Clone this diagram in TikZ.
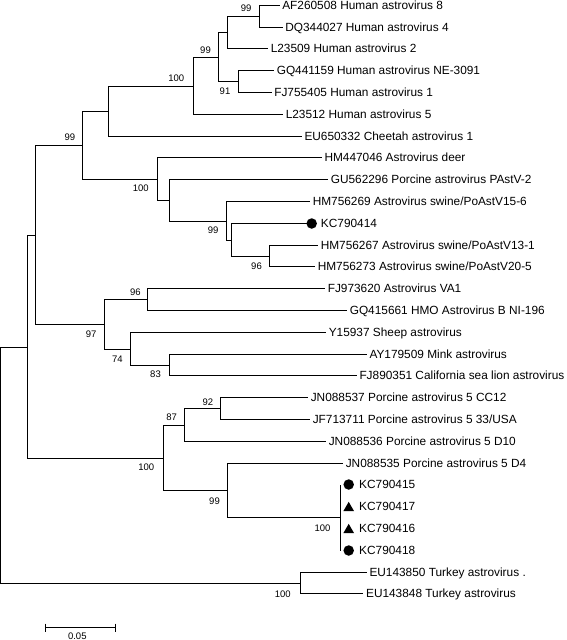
\documentclass[tikz,border=0pt]{standalone}
\usepackage{fontspec}
\setmainfont{Liberation Sans}
\usetikzlibrary{shapes.geometric}
\begin{document}
\begin{tikzpicture}[x=1bp,y=-1bp,
  br/.style={line width=1bp, black},
  leaf/.style={anchor=west, inner sep=0pt, xshift=2.6bp, font=\fontsize{11.85bp}{14bp}\selectfont, text height=8.4bp, text depth=0pt},
  boot/.style={inner sep=0pt, font=\fontsize{9.5bp}{11bp}\selectfont, text height=6.8bp, text depth=0pt},
  dot/.style={circle, fill=black, inner sep=0pt, minimum size=10.5bp},
  tri/.style={regular polygon, regular polygon sides=3, fill=black, inner sep=0pt, minimum size=12.5bp}]
\useasboundingbox (0,0) rectangle (567,640);
% leaf tips
\coordinate (l0) at (279.5,5.5);
\coordinate (l1) at (282.5,27.5);
\coordinate (l2) at (268,48.5);
\coordinate (l3) at (274,70.5);
\coordinate (l4) at (271.5,92.5);
\coordinate (l5) at (283,114.5);
\coordinate (l6) at (301.7,136.5);
\coordinate (l7) at (321.7,157.5);
\coordinate (l8) at (328,179.5);
\coordinate (l9) at (310,201.5);
\coordinate (l10) at (311.7,223.5);
\coordinate (l11) at (318,245.5);
\coordinate (l12) at (315,266.5);
\coordinate (l13) at (325,288.5);
\coordinate (l14) at (347,310.5);
\coordinate (l15) at (326,332.5);
\coordinate (l16) at (366.7,354.5);
\coordinate (l17) at (356.7,375.5);
\coordinate (l18) at (308,397.5);
\coordinate (l19) at (310,419.5);
\coordinate (l20) at (326,441.5);
\coordinate (l21) at (343,463.5);
\coordinate (l22) at (340.5,484.5);
\coordinate (l23) at (340.5,506.5);
\coordinate (l24) at (340.5,528.5);
\coordinate (l25) at (340.5,550.5);
\coordinate (l26) at (366.7,572.5);
\coordinate (l27) at (363.3,593.5);
% internal nodes
\coordinate (nA) at (259.5,16.5);
\coordinate (nB) at (227.5,32.5);
\coordinate (nC) at (238.5,81.5);
\coordinate (nD) at (218.5,57.5);
\coordinate (nE) at (193.5,86.5);
\coordinate (nF) at (108.5,111.5);
\coordinate (nG) at (269.5,256.5);
\coordinate (nH) at (231.5,240.5);
\coordinate (nI) at (226.5,221.5);
\coordinate (nJ) at (169.5,200.5);
\coordinate (nK) at (157.5,179.5);
\coordinate (nL) at (82.5,145.5);
\coordinate (nM) at (147.5,299.5);
\coordinate (nN) at (169.5,365.5);
\coordinate (nO) at (130.5,349.5);
\coordinate (nP) at (104.5,324.5);
\coordinate (nQ) at (35.5,235.5);
\coordinate (nR) at (220.5,408.5);
\coordinate (nS) at (184.5,425.5);
\coordinate (nT) at (340.5,517.5);
\coordinate (nU) at (227.5,490.5);
\coordinate (nV) at (163.5,458.5);
\coordinate (nW) at (27.5,347.5);
\coordinate (nX) at (300.5,583.5);
\coordinate (root) at (0.5,465.5);
% branches
\draw[br] (nA) |- (l0); \draw[br] (nA) |- (l1);
\draw[br] (nB) |- (nA); \draw[br] (nB) |- (l2);
\draw[br] (nC) |- (l3); \draw[br] (nC) |- (l4);
\draw[br] (nD) |- (nB); \draw[br] (nD) |- (nC);
\draw[br] (nE) |- (nD); \draw[br] (nE) |- (l5);
\draw[br] (nF) |- (nE); \draw[br] (nF) |- (l6);
\draw[br] (nG) |- (l11); \draw[br] (nG) |- (l12);
\draw[br] (nH) |- (l10); \draw[br] (nH) |- (nG);
\draw[br] (nI) |- (l9); \draw[br] (nI) |- (nH);
\draw[br] (nJ) |- (l8); \draw[br] (nJ) |- (nI);
\draw[br] (nK) |- (l7); \draw[br] (nK) |- (nJ);
\draw[br] (nL) |- (nF); \draw[br] (nL) |- (nK);
\draw[br] (nM) |- (l13); \draw[br] (nM) |- (l14);
\draw[br] (nN) |- (l16); \draw[br] (nN) |- (l17);
\draw[br] (nO) |- (l15); \draw[br] (nO) |- (nN);
\draw[br] (nP) |- (nM); \draw[br] (nP) |- (nO);
\draw[br] (nQ) |- (nL); \draw[br] (nQ) |- (nP);
\draw[br] (nR) |- (l18); \draw[br] (nR) |- (l19);
\draw[br] (nS) |- (nR); \draw[br] (nS) |- (l20);
\draw[br] (nT) |- (l22); \draw[br] (nT) |- (l23);
\draw[br] (nT) |- (l24); \draw[br] (nT) |- (l25);
\draw[br] (nU) |- (l21); \draw[br] (nU) |- (nT);
\draw[br] (nV) |- (nS); \draw[br] (nV) |- (nU);
\draw[br] (nW) |- (nQ); \draw[br] (nW) |- (nV);
\draw[br] (nX) |- (l26); \draw[br] (nX) |- (l27);
\draw[br] (root) |- (nW); \draw[br] (root) |- (nX);
% leaf labels
\node[leaf] (t0) at (l0) {AF260508 Human astrovirus 8};
\node[leaf] (t1) at (l1) {DQ344027 Human astrovirus 4};
\node[leaf] (t2) at (l2) {L23509 Human astrovirus 2};
\node[leaf] (t3) at (l3) {GQ441159 Human astrovirus NE-3091};
\node[leaf] (t4) at (l4) {FJ755405 Human astrovirus 1};
\node[leaf] (t5) at (l5) {L23512 Human astrovirus 5};
\node[leaf] (t6) at (l6) {EU650332 Cheetah astrovirus 1};
\node[leaf] (t7) at (l7) {HM447046 Astrovirus deer};
\node[leaf] (t8) at (l8) {GU562296 Porcine astrovirus PAstV-2};
\node[leaf] (t9) at (l9) {HM756269 Astrovirus swine/PoAstV15-6};
\node[dot] (s10) at (l10) {};
\node[leaf] (t10) at ([xshift=1bp]s10.east) {KC790414};
\node[leaf] (t11) at (l11) {HM756267 Astrovirus swine/PoAstV13-1};
\node[leaf] (t12) at (l12) {HM756273 Astrovirus swine/PoAstV20-5};
\node[leaf] (t13) at (l13) {FJ973620 Astrovirus VA1};
\node[leaf] (t14) at (l14) {GQ415661 HMO Astrovirus B NI-196};
\node[leaf] (t15) at (l15) {Y15937 Sheep astrovirus};
\node[leaf] (t16) at (l16) {AY179509 Mink astrovirus};
\node[leaf] (t17) at (l17) {FJ890351 California sea lion astrovirus};
\node[leaf] (t18) at (l18) {JN088537 Porcine astrovirus 5 CC12};
\node[leaf] (t19) at (l19) {JF713711 Porcine astrovirus 5 33/USA};
\node[leaf] (t20) at (l20) {JN088536 Porcine astrovirus 5 D10};
\node[leaf] (t21) at (l21) {JN088535 Porcine astrovirus 5 D4};
\node[dot] (s22) at (348.7,484.5) {};
\node[tri] (s23) at (348.7,508.1) {};
\node[tri] (s24) at (348.7,530.1) {};
\node[dot] (s25) at (348.7,550.5) {};
\node[leaf] (t22) at (356.4,484.5) {KC790415};
\node[leaf] (t23) at (356.4,506.5) {KC790417};
\node[leaf] (t24) at (356.4,528.5) {KC790416};
\node[leaf] (t25) at (356.4,550.5) {KC790418};
\node[leaf] (t26) at (l26) {EU143850 Turkey astrovirus .};
\node[leaf] (t27) at (l27) {EU143848 Turkey astrovirus};
% bootstrap values
\node[boot] (bA) at (246.2,7.7) {99};
\node[boot] (bD) at (205.5,49.7) {99};
\node[boot] (bC) at (225,91.2) {91};
\node[boot] (bE) at (176.2,78.2) {100};
\node[boot] (bL) at (69.8,137) {99};
\node[boot] (bK) at (140.8,188.3) {100};
\node[boot] (bI) at (213.2,230.3) {99};
\node[boot] (bG) at (256.5,265.7) {96};
\node[boot] (bM) at (135.3,292.3) {96};
\node[boot] (bP) at (91.2,333.7) {97};
\node[boot] (bO) at (117.3,358.7) {74};
\node[boot] (bN) at (155.5,374.3) {83};
\node[boot] (bR) at (207.8,401.7) {92};
\node[boot] (bS) at (171.7,417.5) {87};
\node[boot] (bV) at (146.3,467.5) {100};
\node[boot] (bU) at (214.5,500.7) {99};
\node[boot] (bT) at (322.5,527.7) {100};
\node[boot] (bX) at (282.8,593.7) {100};
% scale bar
\coordinate (sb1) at (45.5,627.5);
\coordinate (sb2) at (115.5,627.5);
\draw[br] (sb1) -- (sb2);
\draw[br] ([yshift=4bp]sb1) -- ([yshift=-4bp]sb1);
\draw[br] ([yshift=4bp]sb2) -- ([yshift=-4bp]sb2);
\node[boot] (sbl) at (77.3,635.6) {0.05};
\end{tikzpicture}
\end{document}
